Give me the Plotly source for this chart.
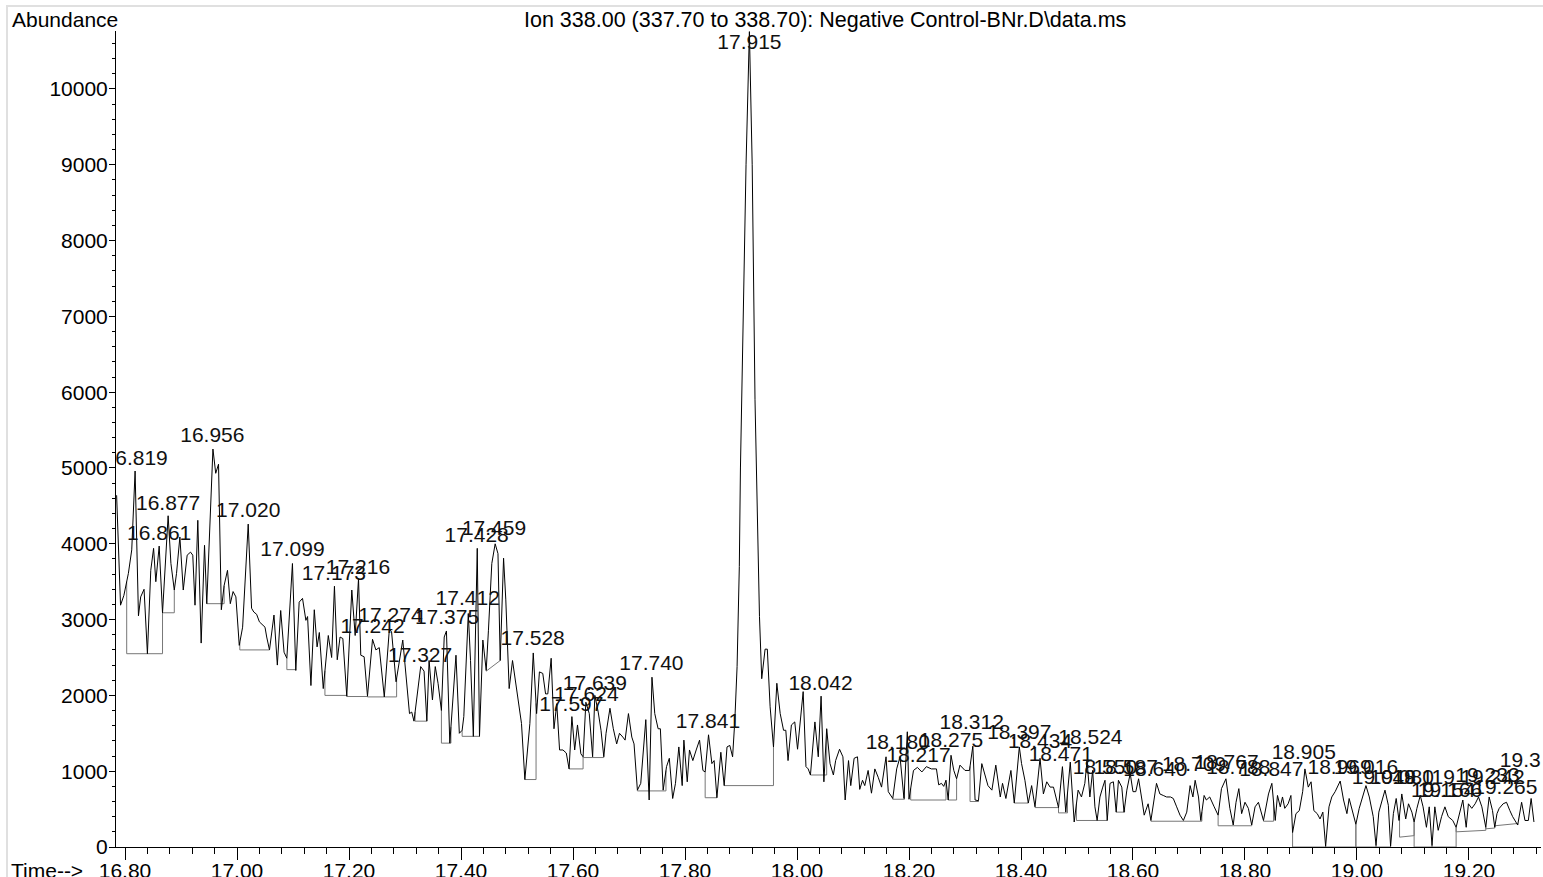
import numpy as np
import plotly.graph_objects as go

# ---- chromatogram trace (retention time in min, abundance) ----
times = [
    16.785, 16.792, 16.798, 16.806, 16.812, 16.818, 16.824, 16.828, 16.834, 16.840,
    16.846, 16.851, 16.855, 16.861, 16.867, 16.877, 16.882, 16.888, 16.892, 16.898,
    16.904, 16.911, 16.917, 16.921, 16.925, 16.930, 16.936, 16.942, 16.946, 16.957,
    16.962, 16.967, 16.972, 16.977, 16.983, 16.988, 16.993, 16.998, 17.004, 17.010,
    17.020, 17.026, 17.030, 17.035, 17.040, 17.046, 17.050, 17.053, 17.058, 17.066,
    17.072, 17.078, 17.084, 17.089, 17.099, 17.105, 17.111, 17.117, 17.123, 17.126,
    17.132, 17.138, 17.143, 17.147, 17.154, 17.163, 17.169, 17.174, 17.179, 17.184,
    17.189, 17.196, 17.205, 17.211, 17.217, 17.221, 17.227, 17.233, 17.242, 17.248,
    17.254, 17.263, 17.272, 17.276, 17.284, 17.296, 17.300, 17.304, 17.308, 17.312,
    17.316, 17.328, 17.334, 17.339, 17.343, 17.349, 17.354, 17.359, 17.365, 17.370,
    17.374, 17.380, 17.391, 17.397, 17.402, 17.405, 17.413, 17.417, 17.422, 17.429,
    17.433, 17.439, 17.445, 17.449, 17.455, 17.461, 17.466, 17.470, 17.476, 17.480,
    17.486, 17.492, 17.502, 17.508, 17.514, 17.520, 17.523, 17.529, 17.535, 17.540,
    17.546, 17.551, 17.555, 17.561, 17.566, 17.571, 17.576, 17.582, 17.588, 17.593,
    17.598, 17.603, 17.608, 17.614, 17.618, 17.623, 17.629, 17.635, 17.639, 17.645,
    17.650, 17.655, 17.659, 17.666, 17.672, 17.678, 17.683, 17.689, 17.693, 17.699,
    17.705, 17.709, 17.715, 17.721, 17.730, 17.736, 17.741, 17.746, 17.752, 17.756,
    17.761, 17.767, 17.772, 17.778, 17.783, 17.789, 17.795, 17.798, 17.804, 17.808,
    17.814, 17.820, 17.826, 17.832, 17.836, 17.842, 17.848, 17.852, 17.857, 17.864,
    17.870, 17.875, 17.880, 17.885, 17.889, 17.893, 17.897, 17.899, 17.904, 17.909,
    17.915, 17.920, 17.925, 17.930, 17.933, 17.937, 17.943, 17.947, 17.952, 17.958,
    17.964, 17.970, 17.976, 17.980, 17.984, 17.990, 17.996, 18.001, 18.011, 18.016,
    18.020, 18.024, 18.032, 18.038, 18.043, 18.048, 18.053, 18.059, 18.065, 18.069,
    18.076, 18.082, 18.086, 18.092, 18.096, 18.102, 18.108, 18.112, 18.117, 18.121,
    18.127, 18.133, 18.139, 18.145, 18.151, 18.159, 18.163, 18.171, 18.178, 18.184,
    18.191, 18.197, 18.200, 18.208, 18.215, 18.223, 18.231, 18.240, 18.249, 18.253,
    18.258, 18.262, 18.266, 18.270, 18.275, 18.280, 18.285, 18.291, 18.300, 18.308,
    18.314, 18.318, 18.324, 18.330, 18.336, 18.341, 18.348, 18.355, 18.363, 18.367,
    18.373, 18.382, 18.388, 18.397, 18.401, 18.407, 18.413, 18.419, 18.425, 18.434,
    18.440, 18.446, 18.452, 18.458, 18.467, 18.474, 18.480, 18.488, 18.495, 18.502,
    18.508, 18.514, 18.518, 18.523, 18.528, 18.532, 18.536, 18.541, 18.546, 18.550,
    18.554, 18.559, 18.565, 18.570, 18.574, 18.580, 18.584, 18.589, 18.595, 18.600,
    18.605, 18.610, 18.616, 18.620, 18.627, 18.632, 18.642, 18.648, 18.654, 18.660,
    18.667, 18.672, 18.678, 18.684, 18.690, 18.696, 18.702, 18.707, 18.711, 18.717,
    18.721, 18.727, 18.731, 18.737, 18.745, 18.752, 18.758, 18.766, 18.773, 18.779,
    18.784, 18.789, 18.794, 18.800, 18.806, 18.812, 18.818, 18.824, 18.833, 18.842,
    18.848, 18.854, 18.858, 18.863, 18.867, 18.871, 18.877, 18.882, 18.885, 18.891,
    18.897, 18.903, 18.907, 18.913, 18.918, 18.923, 18.929, 18.934, 18.939, 18.944,
    18.950, 18.955, 18.961, 18.970, 18.976, 18.982, 18.986, 18.993, 18.998, 19.004,
    19.010, 19.016, 19.022, 19.029, 19.034, 19.039, 19.045, 19.050, 19.056, 19.060,
    19.065, 19.070, 19.075, 19.080, 19.087, 19.092, 19.098, 19.102, 19.107, 19.113,
    19.118, 19.124, 19.129, 19.134, 19.139, 19.145, 19.151, 19.157, 19.163, 19.171,
    19.177, 19.183, 19.189, 19.195, 19.199, 19.205, 19.211, 19.217, 19.223, 19.230,
    19.236, 19.242, 19.246, 19.250, 19.254, 19.261, 19.267, 19.273, 19.278, 19.287,
    19.294, 19.300, 19.306, 19.311, 19.316,
]
abundance = [
    4640, 3190, 3320, 3610, 3920, 4960, 3050, 3300, 3400, 2550,
    3650, 3940, 3500, 3970, 3090, 4370, 3740, 3390, 3610, 4090,
    3390, 3850, 3890, 3850, 3190, 4310, 2690, 3980, 3210, 5250,
    4930, 5050, 3130, 3450, 3650, 3210, 3370, 3300, 2660, 2900,
    4260, 3150, 3100, 3070, 2970, 2930, 2900, 2770, 2600, 3060,
    2400, 3120, 2570, 2490, 3740, 2330, 3230, 3280, 2990, 3040,
    2130, 3130, 2640, 2830, 2090, 2790, 2500, 3440, 2470, 2770,
    2750, 1990, 3390, 2790, 3540, 2530, 2510, 1990, 2740, 2600,
    2630, 1980, 2870, 2840, 2180, 2730, 2380, 2020, 1760, 1780,
    1660, 2380, 2320, 1660, 2460, 1940, 2380, 2160, 1800, 2770,
    2850, 1370, 2530, 1500, 1540, 1720, 3080, 2460, 1460, 3940,
    1460, 2730, 2330, 2860, 3740, 4000, 3870, 2460, 3810, 3260,
    2090, 2460, 1940, 1630, 890, 1450, 1630, 2560, 1760, 2310,
    2290, 2020, 2020, 2490, 1560, 1890, 1280, 1280, 1240, 1030,
    1720, 1280, 1610, 1230, 1190, 1910, 1760, 1190, 2000, 1780,
    1540, 1190, 1500, 1830, 1560, 1360, 1500, 1450, 1410, 1760,
    1450, 1360, 750, 840, 1680, 620, 2240, 1760, 1560, 1560,
    750, 1060, 1170, 640, 840, 1320, 810, 1410, 860, 1280,
    1140, 1280, 1410, 1010, 990, 1480, 1100, 1140, 650, 1250,
    810, 1320, 1340, 1190, 1670, 2380, 3700, 5000, 7200, 9000,
    10757, 9000, 5900, 4140, 3040, 2220, 2610, 2610, 1850, 1320,
    2160, 1760, 1540, 1540, 1140, 1610, 1650, 1290, 2050, 1060,
    1030, 950, 1650, 1190, 1990, 860, 1560, 1100, 950, 1140,
    1290, 1190, 620, 1140, 810, 1170, 1190, 760, 880, 810,
    1010, 710, 1030, 920, 790, 1190, 730, 640, 1030, 1190,
    640, 1520, 630, 1010, 1050, 990, 1060, 1030, 1030, 820,
    840, 800, 880, 620, 1210, 1010, 900, 1080, 1010, 1010,
    1330, 620, 610, 1100, 920, 810, 750, 1080, 660, 840,
    640, 1010, 580, 1320, 1100, 880, 580, 810, 530, 1170,
    700, 860, 790, 790, 520, 1060, 460, 1120, 330, 750,
    660, 840, 1140, 660, 1010, 530, 350, 660, 790, 880,
    350, 840, 860, 460, 880, 790, 460, 750, 970, 730,
    730, 900, 620, 420, 570, 350, 840, 700, 680, 660,
    660, 640, 530, 420, 350, 460, 810, 660, 880, 660,
    350, 680, 620, 660, 530, 420, 770, 900, 510, 290,
    590, 770, 440, 590, 510, 290, 530, 590, 350, 700,
    840, 350, 680, 530, 660, 510, 570, 680, 190, 440,
    480, 730, 1030, 790, 860, 480, 440, 370, 460, 10,
    530, 660, 730, 870, 620, 440, 640, 460, 300, 510,
    660, 810, 660, 400, 20, 460, 620, 750, 550, 10,
    440, 640, 350, 700, 370, 570, 460, 330, 510, 680,
    530, 260, 530, 20, 530, 220, 400, 530, 400, 350,
    260, 440, 620, 260, 570, 510, 570, 660, 530, 260,
    660, 480, 260, 440, 510, 570, 590, 480, 400, 290,
    590, 350, 350, 640, 330,
]

# ---- integration baselines (start time, end time, start level, end level) ----
base_start = [16.803, 16.867, 16.946, 17.005, 17.089, 17.157, 17.196, 17.233, 17.263, 17.318,
              17.365, 17.402, 17.445, 17.514, 17.593, 17.618, 17.715, 17.836, 17.870, 18.024,
              18.171, 18.203, 18.270, 18.309, 18.388, 18.425, 18.467, 18.499, 18.536, 18.570,
              18.632, 18.752, 18.833, 18.885, 18.944, 18.998, 19.034, 19.076, 19.102, 19.134,
              19.177, 19.230, 19.246]
base_end = [16.867, 16.888, 16.977, 17.058, 17.105, 17.196, 17.233, 17.263, 17.285, 17.339,
            17.382, 17.433, 17.470, 17.534, 17.618, 17.655, 17.766, 17.857, 17.958, 18.053,
            18.192, 18.266, 18.285, 18.324, 18.413, 18.467, 18.483, 18.536, 18.554, 18.585,
            18.723, 18.812, 18.851, 18.944, 18.998, 19.034, 19.060, 19.102, 19.134, 19.177,
            19.230, 19.246, 19.287]
base_level_start = [2550, 3090, 3210, 2600, 2340, 2000, 1985, 1980, 1980, 1660,
                    1370, 1460, 2320, 890, 1030, 1180, 740, 650, 810, 950,
                    630, 620, 620, 600, 580, 520, 450, 350, 350, 460,
                    340, 280, 340, 0, 0, 0, 0, 130, 0, 0,
                    200, 240, 280]
base_level_end = [2550, 3090, 3210, 2600, 2340, 2000, 1985, 1980, 1980, 1660,
                  1370, 1460, 2460, 890, 1030, 1180, 740, 650, 810, 950,
                  630, 620, 620, 600, 580, 520, 450, 350, 350, 460,
                  340, 280, 340, 0, 0, 0, 0, 150, 0, 0,
                  220, 250, 310]

# ---- peak apex labels (text, x position, vertical text centre) ----
label_text = ["16.819", "16.861", "16.877", "16.956", "17.020", "17.099", "17.173", "17.216",
              "17.242", "17.274", "17.327", "17.375", "17.412", "17.428", "17.459", "17.528",
              "17.597", "17.624", "17.639", "17.740", "17.841", "17.915", "18.042", "18.180",
              "18.217", "18.275", "18.312", "18.397", "18.434", "18.471", "18.524", "18.550",
              "18.587", "18.640", "18.709", "18.767", "18.788", "18.847", "18.905", "18.969",
              "19.016", "19.048", "19.080", "19.119", "19.154", "19.166", "19.233", "19.242",
              "19.265", "19.311"]
label_time = [16.819, 16.861, 16.877, 16.956, 17.020, 17.099, 17.173, 17.216,
              17.242, 17.274, 17.327, 17.375, 17.412, 17.428, 17.459, 17.528,
              17.597, 17.624, 17.639, 17.740, 17.841, 17.915, 18.042, 18.180,
              18.217, 18.275, 18.312, 18.397, 18.434, 18.471, 18.524, 18.550,
              18.587, 18.640, 18.709, 18.767, 18.788, 18.847, 18.905, 18.969,
              19.016, 19.048, 19.080, 19.119, 19.154, 19.166, 19.233, 19.242,
              19.265, 19.311]
label_level = [5104, 4123, 4519, 5412, 4422, 3903, 3596, 3675,
               2896, 3036, 2508, 3006, 3256, 4092, 4180, 2738,
               1870, 2002, 2143, 2398, 1637, 10595, 2134, 1365,
               1197, 1386, 1629, 1488, 1373, 1210, 1431, 1035,
               1035, 1012, 1078, 1100, 1035, 1012, 1233, 1035,
               1035, 903, 903, 903, 726, 726, 924, 903,
               771, 1122]

FONT = "Arial, 'Liberation Sans', sans-serif"
FS = 21

t_arr = np.array(times)
a_arr = np.array(abundance)

bx, by = [], []
for t1, t2, b1, b2 in zip(base_start, base_end, base_level_start, base_level_end):
    c1 = float(np.interp(t1, t_arr, a_arr))
    c2 = float(np.interp(t2, t_arr, a_arr))
    bx += [t1, t1, t2, t2, None]
    by += [c1, b1, b2, c2, None]

fig = go.Figure()
fig.add_trace(go.Scatter(x=bx, y=by, mode="lines",
                         line=dict(color="#777777", width=1), hoverinfo="skip"))
fig.add_trace(go.Scatter(x=times, y=abundance, mode="lines",
                         line=dict(color="black", width=1)))
fig.add_trace(go.Scatter(x=label_time, y=label_level, mode="text", text=label_text,
                         textposition="middle center", cliponaxis=True,
                         textfont=dict(family=FONT, size=FS, color="#111111"),
                         hoverinfo="skip"))

fig.update_layout(
    width=1543, height=877,
    margin=dict(l=116, r=2, t=31, b=30, autoexpand=False),
    paper_bgcolor="white", plot_bgcolor="white",
    showlegend=False,
    font=dict(family=FONT, size=FS, color="black"),
    xaxis=dict(range=[16.7839, 19.3286], showline=True, linecolor="black", linewidth=1,
               automargin=False,
               ticks="outside", ticklen=12, tickwidth=1, tickcolor="black",
               tick0=16.8, dtick=0.2, tickformat=".2f", showgrid=False, zeroline=False,
               ticklabelstandoff=-7,
               tickfont=dict(family=FONT, size=FS, color="black"),
               minor=dict(ticks="outside", ticklen=6, tickwidth=1, tickcolor="black",
                          tick0=16.8, dtick=0.04, showgrid=False)),
    yaxis=dict(range=[0, 10765], showline=True, linecolor="black", linewidth=1,
               automargin=False,
               ticks="outside", ticklen=6, tickwidth=1, tickcolor="black",
               tick0=0, dtick=1000, tickformat="d", showgrid=False, zeroline=False,
               ticklabelstandoff=-3,
               tickfont=dict(family=FONT, size=FS, color="black"),
               minor=dict(ticks="outside", ticklen=3, tickwidth=1, tickcolor="black",
                          tick0=0, dtick=200, showgrid=False)),
    annotations=[
        dict(text="Abundance", xref="paper", yref="paper", x=(10 - 116) / 1425, y=1.0135,
             xanchor="left", yanchor="middle", showarrow=False,
             font=dict(family=FONT, size=FS, color="black")),
        dict(text="Ion 338.00 (337.70 to 338.70): Negative Control-BNr.D\\data.ms",
             xref="paper", yref="paper", x=(522 - 116) / 1425, y=1.0135,
             xanchor="left", yanchor="middle", showarrow=False,
             font=dict(family=FONT, size=21.5, color="black")),
        dict(text="Time-->", xref="paper", yref="paper", x=(9 - 116) / 1425,
             y=-(870 - 846.7) / 816,
             xanchor="left", yanchor="middle", showarrow=False,
             font=dict(family=FONT, size=FS, color="black")),
    ],
    shapes=[
        dict(type="rect", xref="paper", yref="paper",
             x0=(7 - 116) / 1425, x1=1.01, y0=-0.06, y1=(846.7 - 6) / 815.7,
             line=dict(color="#e0e0e0", width=2), layer="below"),
    ],
)

fig.write_html("out.html", config={"displayModeBar": False},
               post_script="document.body.style.margin='0';")
